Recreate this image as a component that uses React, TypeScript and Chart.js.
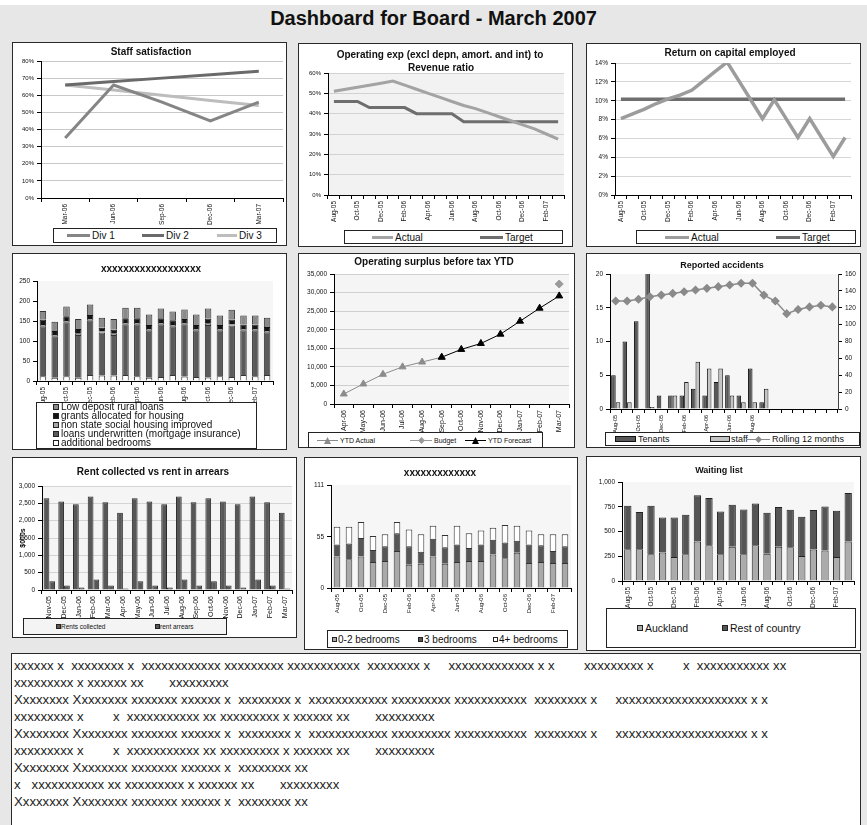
import React, { useEffect, useRef } from 'react';
import { Chart, registerables } from 'chart.js';

Chart.register(...registerables);

const FONT = "'Liberation Sans', Arial, Helvetica, sans-serif";

// ---------------- DATA ----------------
const staffCategories = ['Mar-06', 'Jun-06', 'Sep-06', 'Dec-06', 'Mar-07'];
const staffDiv1 = [35, 66, 56, 45, 56];
const staffDiv2 = [66, 68, 70, 72, 74];
const staffDiv3 = [66, 63, 60, 57, 54];

const monthCategories = [
  'Aug-05', 'Sep-05', 'Oct-05', 'Nov-05', 'Dec-05', 'Jan-06', 'Feb-06', 'Mar-06', 'Apr-06', 'May-06',
  'Jun-06', 'Jul-06', 'Aug-06', 'Sep-06', 'Oct-06', 'Nov-06', 'Dec-06', 'Jan-07', 'Feb-07', 'Mar-07',
];

const opexActual = [51, 52, 53, 54, 55, 56, 54, 52, 50, 48, 46, 44, 42.5, 40.5, 38.5, 36.5, 34.5, 32.5, 30, 27.5];
const opexTarget = [46, 46, 46, 43, 43, 43, 43, 40, 40, 40, 40, 36, 36, 36, 36, 36, 36, 36, 36, 36];

const rocActual = [8.1, 8.6, 9.1, 9.7, 10.2, 10.6, 11.1, 12.1, 13.1, 14.1, 12.1, 10.1, 8.1, 10.1, 8.1, 6.1, 8.1, 6.1, 4.1, 6.1];
const rocTarget = [10.15, 10.15, 10.15, 10.15, 10.15, 10.15, 10.15, 10.15, 10.15, 10.15, 10.15, 10.15, 10.15, 10.15, 10.15, 10.15, 10.15, 10.15, 10.15, 10.15];

const additionalBedrooms = [12, 8, 12, 8, 15, 14, 14, 15, 12, 8, 10, 15, 11, 10, 9, 12, 10, 15, 12, 15];
const loansUnderwritten = [125, 104, 135, 107, 137, 107, 101, 127, 130, 119, 132, 122, 131, 117, 131, 115, 129, 112, 115, 107];
const nonStateHousing = [3, 3, 3, 3, 3, 3, 3, 3, 3, 3, 3, 3, 3, 3, 3, 3, 3, 3, 3, 3];
const grantsHousing = [14, 10, 12, 12, 10, 9, 10, 12, 12, 10, 12, 12, 10, 10, 13, 10, 12, 11, 11, 10];
const lowDepositLoans = [21, 23, 24, 25, 26, 25, 27, 26, 26, 26, 24, 22, 24, 26, 25, 24, 24, 23, 23, 23];

const surplusCategories = ['Apr-06', 'May-06', 'Jun-06', 'Jul-06', 'Aug-06', 'Sep-06', 'Oct-06', 'Nov-06', 'Dec-06', 'Jan-07', 'Feb-07', 'Mar-07'];
const ytdActual = [2700, 5400, 8000, 10000, 11300, 12600, null, null, null, null, null, null];
const ytdBudget = [null, null, null, null, null, null, null, null, null, null, null, 32300];
const ytdForecast = [null, null, null, null, null, 12600, 14700, 16300, 18800, 22300, 25800, 29100];

const accTenants = [5, 10, 13, 21, 2, 2, 2, 3, 2, 4, 5, 2, 6, 1, null, null, null, null, null, null];
const accStaff = [1, 1, 0, 0.3, 0, 2, 4, 7, 6, 6, 2, 1, 1, 3, null, null, null, null, null, null];
const accRolling = [128, 128, 130, 133, 135, 137, 139, 141, 143, 145, 147, 149, 149, 135, 128, 113, 118, 121, 123, 121];

const rentCategories = ['Nov-05', 'Dec-05', 'Jan-06', 'Feb-06', 'Mar-06', 'Apr-06', 'May-06', 'Jun-06', 'Jul-06', 'Aug-06', 'Sep-06', 'Oct-06', 'Nov-06', 'Dec-06', 'Jan-07', 'Feb-07', 'Mar-07'];
const rentsCollected = [2650, 2550, 2470, 2700, 2530, 2230, 2650, 2550, 2470, 2700, 2530, 2650, 2550, 2470, 2700, 2530, 2230];
const rentArrears = [250, 130, 70, 300, 130, 40, 250, 130, 70, 300, 130, 250, 130, 70, 300, 130, 40];

const bedrooms02 = [34, 31, 34, 28, 29, 40, 25, 26, 34, 26, 28, 29, 29, 36, 32, 38, 27, 28, 27, 27];
const bedrooms3 = [13, 17, 20, 13, 16, 19, 20, 13, 19, 18, 19, 14, 18, 16, 17, 13, 20, 18, 13, 18];
const bedrooms4 = [19, 18, 17, 15, 13, 12, 18, 19, 14, 13, 20, 16, 15, 13, 19, 16, 15, 12, 18, 13];
const bedroomTicks = [0, 55, 111];

const waitAuckland = [321, 321, 270, 287, 243, 270, 399, 361, 270, 345, 270, 361, 274, 345, 341, 253, 318, 307, 243, 399];
const waitRest = [439, 375, 490, 355, 399, 399, 466, 477, 433, 425, 453, 423, 415, 402, 379, 396, 398, 446, 466, 490];

const notes = [
  'xxxxxx x  xxxxxxxx x  xxxxxxxxxxxx xxxxxxxxx xxxxxxxxxxx  xxxxxxxx x     xxxxxxxxxxxxx x x        xxxxxxxxx x        x  xxxxxxxxxxx xx',
  'xxxxxxxxx x xxxxxx xx       xxxxxxxxx',
  'Xxxxxxxx Xxxxxxxx xxxxxxx xxxxxx x  xxxxxxxx x  xxxxxxxxxxxx xxxxxxxxx xxxxxxxxxxx  xxxxxxxx x     xxxxxxxxxxxxxxxxxxxx x x',
  'xxxxxxxxx x        x  xxxxxxxxxxx xx xxxxxxxxx x xxxxxx xx       xxxxxxxxx',
  'Xxxxxxxx Xxxxxxxx xxxxxxx xxxxxx x  xxxxxxxx x  xxxxxxxxxxxx xxxxxxxxx xxxxxxxxxxx  xxxxxxxx x     xxxxxxxxxxxxxxxxxxxx x x',
  'xxxxxxxxx x        x  xxxxxxxxxxx xx xxxxxxxxx x xxxxxx xx       xxxxxxxxx',
  'Xxxxxxxx Xxxxxxxx xxxxxxx xxxxxx x  xxxxxxxx xx',
  'x   xxxxxxxxxxx xx xxxxxxxxx x xxxxxx xx       xxxxxxxxx',
  'Xxxxxxxx Xxxxxxxx xxxxxxx xxxxxx x  xxxxxxxx xx',
];

// ---------------- HELPERS ----------------
const plotBgPlugin = {
  id: 'plotBg',
  beforeDraw(chart: any, _a: any, opts: any) {
    if (!opts || !opts.color) return;
    const { ctx, chartArea } = chart;
    ctx.save();
    ctx.fillStyle = opts.color;
    ctx.fillRect(chartArea.left, chartArea.top, chartArea.right - chartArea.left, chartArea.bottom - chartArea.top);
    ctx.restore();
  },
};
Chart.register(plotBgPlugin as any);

type Geo = { x: number; y: number; w: number; h: number; L: number; R: number; T: number; B: number };

const fmtNum = (v: any) => Number(v).toLocaleString('en-US');
const fmtPct = (v: any) => `${v}%`;

function baseOptions(g: Geo, bg: string | null, rightAxis = false): any {
  return {
    responsive: false,
    maintainAspectRatio: false,
    animation: false,
    events: [],
    layout: { padding: { left: 0, top: g.T - g.y, right: rightAxis ? 0 : g.x + g.w - g.R, bottom: 0 } },
    plugins: {
      legend: { display: false },
      title: { display: false },
      tooltip: { enabled: false },
      plotBg: { color: bg },
    },
  };
}

function xAxis(g: Geo, labels: string[], size: number, show: (i: number) => boolean, extra: any = {}): any {
  return {
    type: 'category',
    offset: true,
    grid: { offset: true, drawOnChartArea: false, drawTicks: true, tickLength: 4, tickColor: '#000', color: '#000' },
    border: { color: '#000', width: 1 },
    ticks: {
      autoSkip: false,
      minRotation: 90,
      maxRotation: 90,
      padding: 2,
      font: { family: FONT, size },
      color: '#111',
      callback: (_v: any, i: number) => (show(i) ? labels[i] : ''),
    },
    afterFit: (s: any) => {
      s.height = g.y + g.h - g.B;
    },
    ...extra,
  };
}

function yAxis(g: Geo, min: number, max: number, step: number, size: number, fmt: any, gridColor: string | null, extra: any = {}): any {
  return {
    min,
    max,
    grid: {
      color: gridColor || '#000',
      drawOnChartArea: !!gridColor,
      drawTicks: true,
      tickLength: 4,
      tickColor: '#000',
    },
    border: { color: '#000', width: 1 },
    ticks: { stepSize: step, font: { family: FONT, size }, color: '#111', padding: 3, callback: fmt },
    afterFit: (s: any) => {
      s.width = g.L - g.x;
    },
    ...extra,
  };
}

function lineDs(label: string, data: any[], color: string, width: number, extra: any = {}): any {
  return {
    label,
    data,
    borderColor: color,
    backgroundColor: color,
    borderWidth: width,
    pointRadius: 0,
    tension: 0,
    fill: false,
    ...extra,
  };
}

function barDs(label: string, data: any[], color: string, border: string, extra: any = {}): any {
  return { label, data, backgroundColor: color, borderColor: border, borderWidth: 1, ...extra };
}

function ChartCanvas({ g, make }: { g: Geo; make: () => any }) {
  const ref = useRef<HTMLCanvasElement>(null);
  useEffect(() => {
    const c = new Chart(ref.current as HTMLCanvasElement, make());
    return () => c.destroy();
  }, []);
  return (
    <canvas
      ref={ref}
      width={g.w}
      height={g.h}
      style={{ position: 'absolute', left: g.x, top: g.y, width: g.w, height: g.h }}
    />
  );
}

function Panel({ x, y, w, h }: any) {
  return (
    <div
      style={{
        position: 'absolute',
        left: x,
        top: y,
        width: w,
        height: h,
        boxSizing: 'border-box',
        border: '1px solid #2a2a2a',
        background: '#fff',
      }}
    />
  );
}

function Title({ cx, cy, text, size = 10 }: any) {
  return (
    <div
      style={{
        position: 'absolute',
        left: cx - 150,
        width: 300,
        top: cy - 7,
        lineHeight: '14px',
        textAlign: 'center',
        fontFamily: FONT,
        fontWeight: 'bold',
        fontSize: size,
        color: '#111',
        whiteSpace: 'nowrap',
      }}
    >
      {text}
    </div>
  );
}

function LegendBox({ x, y, w, h, bg = '#fff' }: any) {
  return (
    <div
      style={{
        position: 'absolute',
        left: x,
        top: y,
        width: w,
        height: h,
        boxSizing: 'border-box',
        border: '1px solid #222',
        background: bg,
      }}
    />
  );
}

function LineSwatch({ x, cy, len, color, thick }: any) {
  return <div style={{ position: 'absolute', left: x, top: cy - thick / 2, width: len, height: thick, background: color }} />;
}

function BoxSwatch({ x, cy, w, h, color, border = '#222' }: any) {
  return (
    <div
      style={{
        position: 'absolute',
        left: x,
        top: cy - h / 2,
        width: w,
        height: h,
        boxSizing: 'border-box',
        background: color,
        border: `1px solid ${border}`,
      }}
    />
  );
}

function Marker({ x, cy, shape, color, size = 7 }: any) {
  const half = size / 2;
  const pts = shape === 'triangle' ? `${half},0 ${size},${size} 0,${size}` : `${half},0 ${size},${half} ${half},${size} 0,${half}`;
  return (
    <svg width={size} height={size} style={{ position: 'absolute', left: x - half, top: cy - half }}>
      <polygon points={pts} fill={color} />
    </svg>
  );
}

function Txt({ x, cy, text, size, color = '#111' }: any) {
  const lh = Math.round(size * 1.25);
  return (
    <div
      style={{
        position: 'absolute',
        left: x,
        top: cy - lh / 2,
        lineHeight: `${lh}px`,
        fontSize: size,
        fontFamily: FONT,
        color,
        whiteSpace: 'nowrap',
      }}
    >
      {text}
    </div>
  );
}

// ---------------- GEOMETRY ----------------
const g1: Geo = { x: 13, y: 43, w: 273, h: 202, L: 41, R: 283, T: 61, B: 198 };
const g2: Geo = { x: 299, y: 44, w: 273, h: 202, L: 328, R: 564, T: 73, B: 195 };
const g3: Geo = { x: 587, y: 44, w: 273, h: 202, L: 615, R: 851, T: 63, B: 195 };
const g4: Geo = { x: 13, y: 254, w: 273, h: 195, L: 37, R: 273, T: 281, B: 381 };
const g5: Geo = { x: 299, y: 254, w: 275, h: 193, L: 334, R: 572, T: 274, B: 404 };
const g6: Geo = { x: 587, y: 254, w: 273, h: 193, L: 610, R: 838, T: 274, B: 409 };
const g7: Geo = { x: 13, y: 458, w: 283, h: 179, L: 42, R: 292, T: 486, B: 590 };
const g8: Geo = { x: 305, y: 458, w: 272, h: 191, L: 331, R: 571, T: 485, B: 588 };
const g9: Geo = { x: 587, y: 457, w: 273, h: 193, L: 622, R: 854, T: 482, B: 581 };

const even = (i: number) => i % 2 === 0;
const all = () => true;

// ---------------- CHART CONFIGS ----------------
const makeStaff = () => ({
  type: 'line',
  data: {
    labels: staffCategories,
    datasets: [
      lineDs('Div 1', staffDiv1, '#858585', 3),
      lineDs('Div 2', staffDiv2, '#6a6a6a', 3),
      lineDs('Div 3', staffDiv3, '#bdbdbd', 3),
    ],
  },
  options: {
    ...baseOptions(g1, null),
    scales: {
      x: xAxis(g1, staffCategories, 6.5, all),
      y: yAxis(g1, 0, 80, 10, 6, fmtPct, '#c8c8c8'),
    },
  },
});

const makeOpex = () => ({
  type: 'line',
  data: {
    labels: monthCategories,
    datasets: [
      lineDs('Actual', opexActual, '#a3a3a3', 3),
      lineDs('Target', opexTarget, '#6e6e6e', 3),
    ],
  },
  options: {
    ...baseOptions(g2, '#f2f2f2'),
    scales: {
      x: xAxis(g2, monthCategories, 6.5, even),
      y: yAxis(g2, 0, 60, 10, 6, fmtPct, '#d2d2d2'),
    },
  },
});

const makeRoc = () => ({
  type: 'line',
  data: {
    labels: monthCategories,
    datasets: [
      lineDs('Actual', rocActual, '#9c9c9c', 3.5),
      lineDs('Target', rocTarget, '#6e6e6e', 3.5),
    ],
  },
  options: {
    ...baseOptions(g3, null),
    scales: {
      x: xAxis(g3, monthCategories, 6.5, even),
      y: yAxis(g3, 0, 14, 2, 6.5, fmtPct, '#d6d6d6'),
    },
  },
});

const makeLoans = () => ({
  type: 'bar',
  data: {
    labels: monthCategories,
    datasets: [
      barDs('additional bedrooms', additionalBedrooms, '#ffffff', '#333'),
      barDs('loans underwritten (mortgage insurance)', loansUnderwritten, '#5a5a5a', '#333'),
      barDs('non state social housing improved', nonStateHousing, '#a8a8a8', '#333'),
      barDs('grants allocated for housing', grantsHousing, '#141414', '#111'),
      barDs('Low deposit rural loans', lowDepositLoans, '#8a8a8a', '#333'),
    ],
  },
  options: {
    ...baseOptions(g4, '#f6f6f6'),
    datasets: { bar: { barPercentage: 0.55, categoryPercentage: 1 } },
    scales: {
      x: xAxis(g4, monthCategories, 6.5, even, { stacked: true }),
      y: yAxis(g4, 0, 250, 50, 6.5, fmtNum, null, { stacked: true }),
    },
  },
});

const makeSurplus = () => ({
  type: 'line',
  data: {
    labels: surplusCategories,
    datasets: [
      lineDs('YTD Forecast', ytdForecast, '#000000', 1, {
        pointRadius: 4,
        pointStyle: 'triangle',
        pointBackgroundColor: '#000',
        pointBorderColor: '#000',
        order: 0,
      }),
      lineDs('YTD Actual', ytdActual, '#8c8c8c', 1, {
        pointRadius: 4,
        pointStyle: 'triangle',
        pointBackgroundColor: '#8c8c8c',
        pointBorderColor: '#8c8c8c',
        order: 1,
      }),
      lineDs('Budget', ytdBudget, '#9a9a9a', 1, {
        showLine: false,
        pointRadius: 4,
        pointStyle: 'rectRot',
        pointBackgroundColor: '#9a9a9a',
        pointBorderColor: '#9a9a9a',
        order: 2,
      }),
    ],
  },
  options: {
    ...baseOptions(g5, '#f5f5f5'),
    scales: {
      x: xAxis(g5, surplusCategories, 7, all),
      y: yAxis(g5, 0, 35000, 5000, 6.5, fmtNum, '#cfcfcf'),
    },
  },
});

const makeAccidents = () => ({
  type: 'bar',
  data: {
    labels: monthCategories,
    datasets: [
      {
        type: 'line',
        label: 'Rolling 12 months',
        data: accRolling,
        yAxisID: 'y1',
        borderColor: '#8a8a8a',
        backgroundColor: '#8a8a8a',
        borderWidth: 1.5,
        pointStyle: 'rectRot',
        pointRadius: 3.5,
        pointBackgroundColor: '#8a8a8a',
        pointBorderColor: '#8a8a8a',
        tension: 0,
        order: 0,
      },
      barDs('Tenants', accTenants, '#585858', '#111', { yAxisID: 'y', order: 1 }),
      barDs('staff', accStaff, '#c4c4c4', '#222', { yAxisID: 'y', order: 2 }),
    ],
  },
  options: {
    ...baseOptions(g6, '#f6f6f6', true),
    datasets: { bar: { barPercentage: 1, categoryPercentage: 0.8 } },
    scales: {
      x: xAxis(g6, monthCategories, 5.5, (i: number) => even(i) && i <= 12),
      y: yAxis(g6, 0, 20, 5, 6.5, fmtNum, null),
      y1: {
        position: 'right',
        min: 0,
        max: 160,
        grid: { drawOnChartArea: false, drawTicks: true, tickLength: 4, tickColor: '#000', color: '#000' },
        border: { color: '#444', width: 1 },
        ticks: { stepSize: 20, font: { family: FONT, size: 6.5 }, color: '#111', padding: 3 },
        afterFit: (s: any) => {
          s.width = g6.x + g6.w - g6.R;
        },
      },
    },
  },
});

const makeRent = () => ({
  type: 'bar',
  data: {
    labels: rentCategories,
    datasets: [
      barDs('Rents collected', rentsCollected, '#575757', '#2a2a2a'),
      barDs('rent arrears', rentArrears, '#575757', '#2a2a2a'),
    ],
  },
  options: {
    ...baseOptions(g7, '#f5f5f5'),
    datasets: { bar: { barPercentage: 1, categoryPercentage: 0.78 } },
    scales: {
      x: xAxis(g7, rentCategories, 7, all),
      y: yAxis(g7, 0, 3000, 500, 6.5, fmtNum, '#d4d4d4', {
        title: {
          display: true,
          text: '$000s',
          color: '#000',
          font: { family: FONT, size: 7, weight: 'bold' },
          padding: { top: 6, bottom: 0 },
        },
      }),
    },
  },
});

const makeBedrooms = () => ({
  type: 'bar',
  data: {
    labels: monthCategories,
    datasets: [
      barDs('0-2 bedrooms', bedrooms02, '#a9a9a9', '#333'),
      barDs('3 bedrooms', bedrooms3, '#565656', '#333'),
      barDs('4+ bedrooms', bedrooms4, '#ffffff', '#333'),
    ],
  },
  options: {
    ...baseOptions(g8, '#f6f6f6'),
    datasets: { bar: { barPercentage: 0.55, categoryPercentage: 1 } },
    scales: {
      x: xAxis(g8, monthCategories, 6, even, { stacked: true }),
      y: yAxis(g8, 0, 111, 55, 6.5, fmtNum, null, {
        stacked: true,
        afterBuildTicks: (s: any) => {
          s.ticks = bedroomTicks.map((v) => ({ value: v }));
        },
      }),
    },
  },
});

const makeWaiting = () => ({
  type: 'bar',
  data: {
    labels: monthCategories,
    datasets: [
      barDs('Auckland', waitAuckland, '#ababab', '#222'),
      barDs('Rest of country', waitRest, '#555555', '#222'),
    ],
  },
  options: {
    ...baseOptions(g9, '#f6f6f6'),
    datasets: { bar: { barPercentage: 0.63, categoryPercentage: 1 } },
    scales: {
      x: xAxis(g9, monthCategories, 6.5, even, { stacked: true }),
      y: yAxis(g9, 0, 1000, 250, 6.5, fmtNum, null, { stacked: true }),
    },
  },
});

// ---------------- APP ----------------
export default function App() {
  return (
    <div
      style={{
        position: 'absolute',
        left: 0,
        top: 0,
        width: 867,
        height: 825,
        overflow: 'hidden',
        background: '#fff',
        fontFamily: FONT,
      }}
    >
      <div style={{ position: 'absolute', left: 0, top: 5, width: 867, height: 820, background: '#e7e7e7' }} />
      <div
        style={{
          position: 'absolute',
          left: 0,
          top: 6,
          width: 867,
          lineHeight: '24px',
          textAlign: 'center',
          fontWeight: 'bold',
          fontSize: 20,
          color: '#111',
        }}
      >
        Dashboard for Board - March 2007
      </div>

      {/* Panels */}
      <Panel x={12} y={42} w={275} h={204} />
      <Panel x={298} y={43} w={275} h={204} />
      <Panel x={586} y={43} w={275} h={204} />
      <Panel x={12} y={253} w={275} h={197} />
      <Panel x={298} y={253} w={277} h={195} />
      <Panel x={586} y={253} w={275} h={195} />
      <Panel x={12} y={457} w={285} h={181} />
      <Panel x={304} y={457} w={274} h={193} />
      <Panel x={586} y={456} w={275} h={195} />

      {/* Chart 1 */}
      <ChartCanvas g={g1} make={makeStaff} />
      <Title cx={151} cy={52} text="Staff satisfaction" />
      <LegendBox x={53} y={228} w={224} h={15} />
      <LineSwatch x={67} cy={235.5} len={23} color="#858585" thick={3} />
      <Txt x={92} cy={235.5} text="Div 1" size={10} />
      <LineSwatch x={142} cy={235.5} len={22} color="#6a6a6a" thick={3} />
      <Txt x={166} cy={235.5} text="Div 2" size={10} />
      <LineSwatch x={217} cy={235.5} len={20} color="#bdbdbd" thick={3} />
      <Txt x={239} cy={235.5} text="Div 3" size={10} />

      {/* Chart 2 */}
      <ChartCanvas g={g2} make={makeOpex} />
      <Title cx={440} cy={55} text="Operating exp (excl depn, amort. and int) to" />
      <Title cx={441} cy={68} text="Revenue ratio" />
      <LegendBox x={344} y={230} w={219} h={14} />
      <LineSwatch x={372} cy={237} len={21} color="#a3a3a3" thick={3} />
      <Txt x={395} cy={237} text="Actual" size={10} />
      <LineSwatch x={480} cy={237} len={23} color="#6e6e6e" thick={3} />
      <Txt x={505} cy={237} text="Target" size={10} />

      {/* Chart 3 */}
      <ChartCanvas g={g3} make={makeRoc} />
      <Title cx={730} cy={53} text="Return on capital employed" />
      <LegendBox x={636} y={230} w={220} h={14} />
      <LineSwatch x={665} cy={237} len={24} color="#9c9c9c" thick={3} />
      <Txt x={691} cy={237} text="Actual" size={10} />
      <LineSwatch x={776} cy={237} len={24} color="#6e6e6e" thick={3} />
      <Txt x={802} cy={237} text="Target" size={10} />

      {/* Chart 4 */}
      <ChartCanvas g={g4} make={makeLoans} />
      <Title cx={151} cy={269} text="xxxxxxxxxxxxxxxxxx" />
      <LegendBox x={36} y={402} w={221} h={47} />
      <BoxSwatch x={53} cy={406.5} w={6} h={6} color="#8a8a8a" />
      <Txt x={61} cy={406.5} text="Low deposit rural loans" size={10} />
      <BoxSwatch x={53} cy={415.5} w={6} h={6} color="#141414" />
      <Txt x={61} cy={415.5} text="grants allocated for housing" size={10} />
      <BoxSwatch x={53} cy={424.5} w={6} h={6} color="#a8a8a8" />
      <Txt x={61} cy={424.5} text="non state social housing improved" size={10} />
      <BoxSwatch x={53} cy={433.5} w={6} h={6} color="#5a5a5a" />
      <Txt x={61} cy={433.5} text="loans underwritten (mortgage insurance)" size={10} />
      <BoxSwatch x={53} cy={442.5} w={6} h={6} color="#ffffff" />
      <Txt x={61} cy={442.5} text="additional bedrooms" size={10} />

      {/* Chart 5 */}
      <ChartCanvas g={g5} make={makeSurplus} />
      <Title cx={434} cy={262} text="Operating surplus before tax YTD" />
      <LegendBox x={308} y={432} w={235} h={16} />
      <LineSwatch x={317} cy={440} len={21} color="#8c8c8c" thick={1} />
      <Marker x={327.5} cy={440} shape="triangle" color="#8c8c8c" />
      <Txt x={340} cy={440} text="YTD Actual" size={7} />
      <LineSwatch x={410} cy={440} len={22} color="#9a9a9a" thick={1} />
      <Marker x={421} cy={440} shape="diamond" color="#9a9a9a" />
      <Txt x={434} cy={440} text="Budget" size={7} />
      <LineSwatch x={465} cy={440} len={21} color="#000" thick={1} />
      <Marker x={475.5} cy={440} shape="triangle" color="#000" />
      <Txt x={488} cy={440} text="YTD Forecast" size={7} />

      {/* Chart 6 */}
      <ChartCanvas g={g6} make={makeAccidents} />
      <Title cx={722} cy={265} text="Reported accidents" size={9} />
      <LegendBox x={605} y={432} w={255} h={14} />
      <BoxSwatch x={615} cy={439} w={21} h={6} color="#585858" border="#111" />
      <Txt x={638} cy={439} text="Tenants" size={9} />
      <BoxSwatch x={710} cy={439} w={20} h={6} color="#c4c4c4" border="#222" />
      <Txt x={731} cy={439} text="staff" size={9} />
      <LineSwatch x={746} cy={439} len={24} color="#8a8a8a" thick={1} />
      <Marker x={758} cy={439} shape="diamond" color="#8a8a8a" size={7} />
      <Txt x={772} cy={439} text="Rolling 12 months" size={9} />

      {/* Chart 7 */}
      <ChartCanvas g={g7} make={makeRent} />
      <Title cx={153} cy={472} text="Rent collected vs rent in arrears" />
      <LegendBox x={23} y={618} w={204} h={17} bg="#f4f4f4" />
      <BoxSwatch x={56} cy={626.5} w={5} h={5} color="#575757" border="#222" />
      <Txt x={61} cy={626.5} text="Rents collected" size={6.5} />
      <BoxSwatch x={155} cy={626.5} w={5} h={5} color="#575757" border="#222" />
      <Txt x={160} cy={626.5} text="rent arrears" size={6.5} />

      {/* Chart 8 */}
      <ChartCanvas g={g8} make={makeBedrooms} />
      <Title cx={440} cy={473} text="xxxxxxxxxxxxx" />
      <LegendBox x={327} y={630} w={241} h={18} />
      <BoxSwatch x={332} cy={639} w={5} h={5} color="#a9a9a9" />
      <Txt x={338} cy={639} text="0-2 bedrooms" size={10} />
      <BoxSwatch x={418} cy={639} w={5} h={5} color="#565656" />
      <Txt x={424} cy={639} text="3 bedrooms" size={10} />
      <BoxSwatch x={493} cy={639} w={5} h={5} color="#ffffff" />
      <Txt x={499} cy={639} text="4+ bedrooms" size={10} />

      {/* Chart 9 */}
      <ChartCanvas g={g9} make={makeWaiting} />
      <Title cx={719} cy={470} text="Waiting list" size={9} />
      <LegendBox x={606} y={608} w={250} h={40} />
      <BoxSwatch x={637} cy={628} w={6} h={6} color="#ababab" />
      <Txt x={645} cy={628} text="Auckland" size={10.5} />
      <BoxSwatch x={722} cy={628} w={6} h={6} color="#555555" />
      <Txt x={730} cy={628} text="Rest of country" size={10.5} />

      {/* Notes */}
      <div
        style={{
          position: 'absolute',
          left: 11,
          top: 653,
          width: 850,
          height: 190,
          boxSizing: 'border-box',
          border: '1px solid #2a2a2a',
          background: '#fff',
          padding: '3px 0 0 2px',
          fontSize: 13.2,
          lineHeight: '17px',
          color: '#222',
          whiteSpace: 'pre',
          fontFamily: FONT,
        }}
      >
        {notes.map((t, i) => (
          <div key={i}>{t}</div>
        ))}
      </div>
    </div>
  );
}
